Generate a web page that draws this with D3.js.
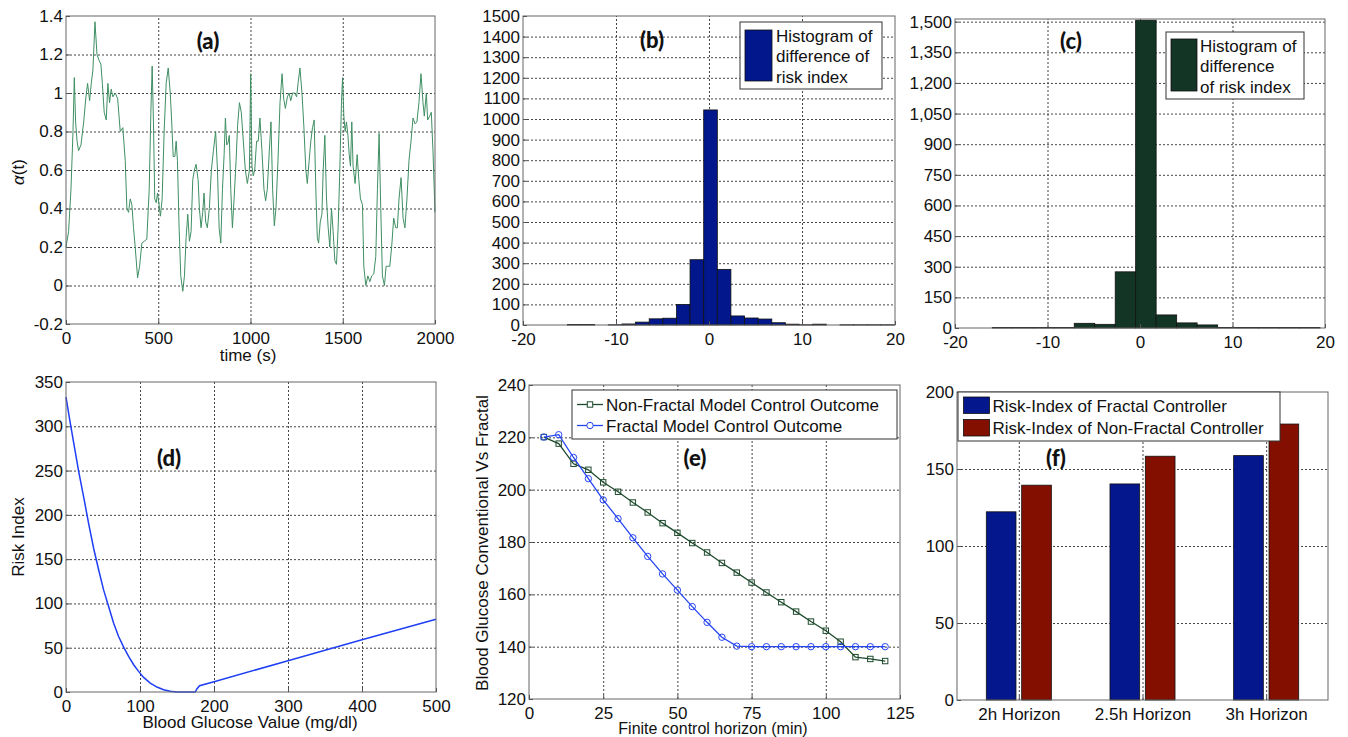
<!DOCTYPE html>
<meta charset="utf-8">
<html>
<script src="https://d3js.org/d3.v7.min.js"></script>
<style>
    body { margin: 0; background: #fff; }
    text { font-family: "Liberation Sans", Arial, sans-serif; }
    .grid line { stroke: #444; stroke-dasharray: 2,2; stroke-width: 1; }
    .grid .domain { display: none; }
    .panel-label { font-family: Lato, "Open Sans", sans-serif; font-weight: 900; font-size: 22px; }
</style>
<body>
<div id="figure"></div>
<script>

// ---------- (a) fractional order alpha(t) ----------
var alphaTime = [0,14,27,38,45,52,60,68,81,96,108,117,128,137,146,157,168,179,189,197,
    207,218,227,236,245,254,267,280,294,308,321,330,339,348,357,366,375,388,399,411,
    424,438,451,460,467,474,481,489,496,503,512,521,532,543,554,565,573,581,590,597,
    604,613,622,633,642,651,660,669,678,687,696,705,716,723,732,741,748,757,766,777,
    788,799,811,821,830,839,848,857,864,871,878,885,893,902,911,922,930,940,950,961,
    972,983,994,1001,1008,1015,1023,1033,1042,1051,1062,1073,1082,1091,1102,1111,1120,1129,1138,1149,
    1160,1171,1180,1189,1200,1209,1218,1228,1239,1250,1259,1268,1279,1289,1300,1308,1318,1327,1336,1345,
    1354,1362,1369,1378,1387,1394,1403,1412,1421,1430,1439,1448,1457,1466,1475,1484,1493,1499,1506,1513,
    1520,1528,1535,1542,1549,1556,1567,1578,1587,1596,1607,1614,1625,1636,1647,1657,1668,1679,1688,1697,
    1706,1715,1726,1735,1744,1755,1765,1776,1787,1796,1805,1816,1827,1837,1848,1859,1870,1881,1892,1902,
    1913,1924,1935,1942,1953,1960,1971,1980,1989,2000];
var alphaValue = [0.2,0.28,0.5,0.8,1.08,0.85,0.75,0.7,0.73,0.85,0.98,1.05,0.96,1.05,1.12,1.37,1.2,1.17,1.15,1.05,
    0.9,0.86,1.05,0.95,1.02,0.98,1.0,0.97,0.8,0.82,0.65,0.4,0.38,0.45,0.42,0.3,0.2,0.04,0.1,0.22,
    0.23,0.24,0.5,0.9,1.14,0.85,0.45,0.43,0.48,0.43,0.36,0.45,0.8,1.05,1.13,1.0,0.85,0.67,0.67,0.75,
    0.65,0.3,0.05,-0.03,0.05,0.25,0.37,0.23,0.28,0.55,0.6,0.63,0.55,0.4,0.3,0.38,0.48,0.33,0.3,0.4,
    0.6,0.7,0.8,0.6,0.3,0.22,0.5,0.68,0.87,0.73,0.74,0.78,0.5,0.3,0.45,0.65,0.83,0.95,0.9,0.75,
    0.6,0.53,0.6,1.1,0.62,0.57,0.6,0.75,0.75,0.87,0.7,0.5,0.44,0.5,0.7,0.85,0.5,0.31,0.4,0.65,
    0.95,1.1,0.97,0.92,0.98,1.0,0.96,1.0,1.0,0.98,1.06,1.13,1.0,0.83,0.6,0.53,0.65,0.75,0.82,0.86,
    0.5,0.25,0.22,0.33,0.37,0.6,0.78,0.45,0.3,0.2,0.4,0.28,0.13,0.11,0.3,0.6,0.95,1.08,0.88,0.8,
    0.85,0.78,0.68,0.62,0.85,0.62,0.53,0.68,0.55,0.45,0.42,0.1,0.0,0.05,0.02,0.05,0.06,0.15,0.5,0.79,
    0.4,0.05,0.0,0.1,0.1,0.1,0.2,0.35,0.3,0.3,0.45,0.56,0.35,0.3,0.45,0.65,0.75,0.87,0.84,0.85,
    0.95,1.1,0.95,0.88,1.0,0.86,0.88,0.9,0.7,0.38];
var aXTicks = [0, 500, 1000, 1500, 2000];
var aYTicks = [-0.2, 0, 0.2, 0.4, 0.6, 0.8, 1, 1.2, 1.4];

// ---------- (b) histogram ----------
var histBLeft = [-15.22,-13.76,-12.29,-10.83,-9.36,-7.90,-6.43,-4.97,-3.50,-2.04,-0.57,0.89,
    2.36,3.82,5.29,6.75,8.22,9.68,11.15,12.61,14.08,15.54,17.01,18.47];
var histBCount = [2,2,0,1,5,14,30,33,100,317,1044,270,44,34,29,11,4,1,4,0,1,1,1,1];
var histBWidth = 1.465;
var bXTicks = [-20, -10, 0, 10, 20];
var bYTicks = d3.range(0, 1501, 100);

// ---------- (c) histogram ----------
var histCLeft = [-15.97,-13.76,-11.54,-9.33,-7.11,-4.90,-2.68,-0.47,1.75,3.96,6.18,8.39,
    10.61,12.82,15.04,17.25];
var histCCount = [2,2,2,2,23,18,275,1507,64,25,15,2,2,2,2,2];
var histCWidth = 2.215;
var cXTicks = [-20, -10, 0, 10, 20];
var cYTicks = d3.range(0, 1501, 150);

// ---------- (d) risk index ----------
var riskGlucose = [0,5.9,11.3,17.1,23.9,30.6,37.4,44.1,50.9,57.6,64.4,71.1,77.9,84.6,91.4,
    98.1,104.9,113.9,122.9,131.9,140.9,149.9,174.6,176.9,180.5,200,300,400,500];
var riskValue = [333,303,277,249,220,190,162,138,115,96.5,77.7,62.7,50.7,40.2,30.8,
    23.3,16.5,10.1,5.6,2.6,0.75,0,0,3.4,7.1,11.6,35.3,59,82.2];
var dXTicks = [0, 100, 200, 300, 400, 500];
var dYTicks = [0, 50, 100, 150, 200, 250, 300, 350];

// ---------- (e) control outcome ----------
var horizonMin = [5,10,15,20,25,30,35,40,45,50,55,60,65,70,75,80,85,90,95,100,105,110,115,120];
var nonFractalBG = [220.1,217.6,209.9,207.6,202.8,199.2,195.1,191.3,187.2,183.5,179.6,176.0,
    172.0,168.3,164.5,160.7,157.0,153.4,149.6,146.1,141.9,136.0,135.3,134.5];
var fractalBG = [220.1,221.0,212.3,204.2,196.1,188.9,181.6,174.5,167.8,161.6,155.3,149.3,
    143.6,140.2,140,140,140,140,140,140,140,140,140,140];
var eXTicks = [0, 25, 50, 75, 100, 125];
var eYTicks = [120, 140, 160, 180, 200, 220, 240];

// ---------- (f) risk index per horizon ----------
var horizonLabels = ["2h Horizon", "2.5h Horizon", "3h Horizon"];
var fractalRisk = [122.2, 140.3, 158.7];
var nonFractalRisk = [139.5, 158.3, 179.2];
var fYTicks = [0, 50, 100, 150, 200];

// set up the page
var svg = d3.select("#figure")
    .append("svg")
    .attr("width", 1348)
    .attr("height", 737);
svg.append("rect").attr("width", 1348).attr("height", 737).attr("fill", "#fff");

var FONT = 17;

function makePanel(box, xDomain, yDomain) {
    var x = d3.scaleLinear().domain(xDomain).range([box.x0, box.x1]);
    var y = d3.scaleLinear().domain(yDomain).range([box.y1, box.y0]);
    return { box: box, x: x, y: y, g: svg.append("g") };
}

// dotted grid lines under the data
function addGrid(p, xGrid, yGrid) {
    var b = p.box;
    p.g.append("g").attr("class", "grid")
        .attr("transform", "translate(0," + b.y1 + ")")
        .call(d3.axisBottom(p.x).tickValues(xGrid).tickSize(-(b.y1 - b.y0)).tickFormat(""));
    p.g.append("g").attr("class", "grid")
        .attr("transform", "translate(" + b.x0 + ",0)")
        .call(d3.axisLeft(p.y).tickValues(yGrid).tickSize(-(b.x1 - b.x0)).tickFormat(""));
}

// box, inward ticks and tick labels
function addFrame(p, xTicks, yTicks, xFmt, yFmt) {
    var b = p.box;
    p.g.append("rect")
        .attr("x", b.x0).attr("y", b.y0)
        .attr("width", b.x1 - b.x0).attr("height", b.y1 - b.y0)
        .attr("fill", "none").attr("stroke", "#666").attr("stroke-width", 1);

    var xa = p.g.append("g")
        .attr("transform", "translate(0," + b.y1 + ")")
        .call(d3.axisBottom(p.x).tickValues(xTicks).tickSize(-4).tickPadding(8).tickFormat(xFmt));
    var ya = p.g.append("g")
        .attr("transform", "translate(" + b.x0 + ",0)")
        .call(d3.axisLeft(p.y).tickValues(yTicks).tickSize(-4).tickPadding(3).tickFormat(yFmt));
    [xa, ya].forEach(function (a) {
        a.select(".domain").remove();
        a.selectAll("line").attr("stroke", "#555");
        a.selectAll("text").attr("font-size", FONT).attr("fill", "#111")
            .attr("font-family", "Liberation Sans, Arial, sans-serif");
    });
}

function panelLabel(txt, cx, cy) {
    svg.append("text").attr("class", "panel-label")
        .attr("x", cx).attr("y", cy)
        .attr("text-anchor", "middle").attr("dominant-baseline", "central")
        .attr("fill", "#111").text(txt);
}

function xTitle(txt, cx, by, size) {
    svg.append("text").attr("x", cx).attr("y", by)
        .attr("text-anchor", "middle").attr("font-size", size || FONT).attr("fill", "#111").text(txt);
}

function yTitle(txt, bx, cy) {
    return svg.append("text")
        .attr("transform", "translate(" + bx + "," + cy + ") rotate(-90)")
        .attr("text-anchor", "middle").attr("font-size", FONT).attr("fill", "#111").text(txt);
}

function legendBox(x0, y0, x1, y1) {
    svg.append("rect").attr("x", x0).attr("y", y0)
        .attr("width", x1 - x0).attr("height", y1 - y0)
        .attr("fill", "#fff").attr("stroke", "#333").attr("stroke-width", 1);
}

function legendText(lines, x, baselines) {
    lines.forEach(function (t, i) {
        svg.append("text").attr("x", x).attr("y", baselines[i])
            .attr("font-size", FONT).attr("fill", "#111").text(t);
    });
}

var fmt = function (d) { return d; };

// ================= (a) =================
var pa = makePanel({ x0: 66, x1: 435, y0: 16, y1: 324 }, [0, 2000], [-0.2, 1.4]);
addGrid(pa, [500, 1000, 1500], [0, 0.2, 0.4, 0.6, 0.8, 1, 1.2]);
pa.g.append("path")
    .datum(d3.zip(alphaTime, alphaValue))
    .attr("fill", "none")
    .attr("stroke", "#3f8f63")
    .attr("stroke-width", 1)
    .attr("d", d3.line().x(function (d) { return pa.x(d[0]); }).y(function (d) { return pa.y(d[1]); }));
addFrame(pa, aXTicks, aYTicks, fmt, fmt);
xTitle("time (s)", 248, 361);
var at = yTitle("", 24, 172);
at.append("tspan").attr("font-style", "italic").text("α");
at.append("tspan").text("(t)");
panelLabel("(a)", 208, 40);

// ================= (b) =================
var pb = makePanel({ x0: 523, x1: 895, y0: 16, y1: 325 }, [-20, 20], [0, 1500]);
addGrid(pb, [-10, 0, 10], d3.range(100, 1500, 100));
pb.g.selectAll("rect.bar")
    .data(d3.zip(histBLeft, histBCount))
    .enter().append("rect")
    .attr("class", "bar")
    .attr("x", function (d) { return pb.x(d[0]); })
    .attr("width", function (d) { return pb.x(d[0] + histBWidth) - pb.x(d[0]); })
    .attr("y", function (d) { return pb.y(d[1]); })
    .attr("height", function (d) { return pb.y(0) - pb.y(d[1]); })
    .attr("fill", "#03178c")
    .attr("stroke", "#111")
    .attr("stroke-width", 0.8);
addFrame(pb, bXTicks, bYTicks, fmt, fmt);
legendBox(740, 22, 882, 89);
svg.append("rect").attr("x", 745).attr("y", 30).attr("width", 27).attr("height", 51)
    .attr("fill", "#03178c").attr("stroke", "#111").attr("stroke-width", 0.8);
legendText(["Histogram of", "difference of", "risk index"], 776, [41.5, 62, 82.5]);
panelLabel("(b)", 652, 39);

// ================= (c) =================
var pc = makePanel({ x0: 955, x1: 1325, y0: 19, y1: 328 }, [-20, 20], [0, 1513]);
addGrid(pc, [-10, 0, 10], d3.range(150, 1501, 150));
pc.g.selectAll("rect.bar")
    .data(d3.zip(histCLeft, histCCount))
    .enter().append("rect")
    .attr("class", "bar")
    .attr("x", function (d) { return pc.x(d[0]); })
    .attr("width", function (d) { return pc.x(d[0] + histCWidth) - pc.x(d[0]); })
    .attr("y", function (d) { return pc.y(d[1]); })
    .attr("height", function (d) { return pc.y(0) - pc.y(d[1]); })
    .attr("fill", "#133526")
    .attr("stroke", "#111")
    .attr("stroke-width", 0.8);
addFrame(pc, cXTicks, cYTicks, fmt, d3.format(","));
legendBox(1166, 32, 1304, 99);
svg.append("rect").attr("x", 1171).attr("y", 39).attr("width", 26).attr("height", 52)
    .attr("fill", "#133526").attr("stroke", "#111").attr("stroke-width", 0.8);
legendText(["Histogram of", "difference", "of risk index"], 1200, [51.5, 71.5, 92.5]);
panelLabel("(c)", 1071, 40);

// ================= (d) =================
var pd = makePanel({ x0: 66, x1: 436, y0: 382, y1: 692 }, [0, 500], [0, 350]);
addGrid(pd, [100, 200, 300, 400], [50, 100, 150, 200, 250, 300]);
pd.g.append("path")
    .datum(d3.zip(riskGlucose, riskValue))
    .attr("fill", "none")
    .attr("stroke", "#1f3ff5")
    .attr("stroke-width", 1.5)
    .attr("d", d3.line().x(function (d) { return pd.x(d[0]); }).y(function (d) { return pd.y(d[1]); }));
addFrame(pd, dXTicks, dYTicks, fmt, fmt);
xTitle("Blood Glucose Value (mg/dl)", 250, 728);
yTitle("Risk Index", 24, 537);
panelLabel("(d)", 169, 457);

// ================= (e) =================
var pe = makePanel({ x0: 529, x1: 900, y0: 385, y1: 699 }, [0, 125], [120, 240]);
addGrid(pe, [25, 50, 75, 100], [140, 160, 180, 200, 220]);
var GREEN = "#1e4a2d", BLUE = "#2545f5";
var lineE = d3.line().x(function (d) { return pe.x(d[0]); }).y(function (d) { return pe.y(d[1]); });
pe.g.append("path").datum(d3.zip(horizonMin, nonFractalBG))
    .attr("fill", "none").attr("stroke", GREEN).attr("stroke-width", 1.3).attr("d", lineE);
pe.g.selectAll("rect.sq").data(d3.zip(horizonMin, nonFractalBG)).enter()
    .append("rect").attr("class", "sq")
    .attr("x", function (d) { return pe.x(d[0]) - 2.7; })
    .attr("y", function (d) { return pe.y(d[1]) - 2.7; })
    .attr("width", 5.4).attr("height", 5.4)
    .attr("fill", "none").attr("stroke", GREEN).attr("stroke-width", 1);
pe.g.append("path").datum(d3.zip(horizonMin, fractalBG))
    .attr("fill", "none").attr("stroke", BLUE).attr("stroke-width", 1.3).attr("d", lineE);
pe.g.selectAll("circle.ci").data(d3.zip(horizonMin, fractalBG)).enter()
    .append("circle").attr("class", "ci")
    .attr("cx", function (d) { return pe.x(d[0]); })
    .attr("cy", function (d) { return pe.y(d[1]); })
    .attr("r", 3.2)
    .attr("fill", "none").attr("stroke", BLUE).attr("stroke-width", 1);
addFrame(pe, eXTicks, eYTicks, fmt, fmt);
legendBox(572, 390, 897, 439);
svg.append("line").attr("x1", 577).attr("x2", 603).attr("y1", 404.5).attr("y2", 404.5)
    .attr("stroke", GREEN).attr("stroke-width", 1.3);
svg.append("rect").attr("x", 587.3).attr("y", 401.8).attr("width", 5.4).attr("height", 5.4)
    .attr("fill", "#fff").attr("stroke", GREEN);
svg.append("line").attr("x1", 577).attr("x2", 603).attr("y1", 425.5).attr("y2", 425.5)
    .attr("stroke", BLUE).attr("stroke-width", 1.3);
svg.append("circle").attr("cx", 590).attr("cy", 425.5).attr("r", 3.2)
    .attr("fill", "#fff").attr("stroke", BLUE);
legendText(["Non-Fractal Model Control Outcome", "Fractal Model Control Outcome"], 606, [410.5, 431.5]);
xTitle("Finite control horizon (min)", 713, 733.5, 16);
yTitle("Blood Glucose Conventional Vs Fractal", 488, 543);
panelLabel("(e)", 695, 457);

// ================= (f) =================
var pf = makePanel({ x0: 957, x1: 1328, y0: 392, y1: 700 }, [0.5, 3.5], [0, 200]);
addGrid(pf, [1, 2, 3], [50, 100, 150]);
var BAR_BLUE = "#04178c", BAR_RED = "#830f00";
var barW = 0.24, barOff = 0.143;
[[fractalRisk, -barOff, BAR_BLUE], [nonFractalRisk, barOff, BAR_RED]].forEach(function (s) {
    pf.g.selectAll(null).data(s[0]).enter().append("rect")
        .attr("x", function (d, i) { return pf.x(i + 1 + s[1] - barW / 2); })
        .attr("width", pf.x(barW) - pf.x(0))
        .attr("y", function (d) { return pf.y(d); })
        .attr("height", function (d) { return pf.y(0) - pf.y(d); })
        .attr("fill", s[2]).attr("stroke", "#111").attr("stroke-width", 0.8);
});
addFrame(pf, [1, 2, 3], fYTicks, function (d) { return horizonLabels[d - 1]; }, fmt);
legendBox(958, 392, 1280, 441);
svg.append("rect").attr("x", 963.5).attr("y", 397).attr("width", 26).attr("height", 16.5)
    .attr("fill", BAR_BLUE).attr("stroke", "#111").attr("stroke-width", 0.8);
svg.append("rect").attr("x", 963.5).attr("y", 419.5).attr("width", 26).attr("height", 16.5)
    .attr("fill", BAR_RED).attr("stroke", "#111").attr("stroke-width", 0.8);
legendText(["Risk-Index of Fractal Controller", "Risk-Index of Non-Fractal Controller"], 992.5, [411.5, 434]);
panelLabel("(f)", 1056, 457);

</script>
</body>
</html>
